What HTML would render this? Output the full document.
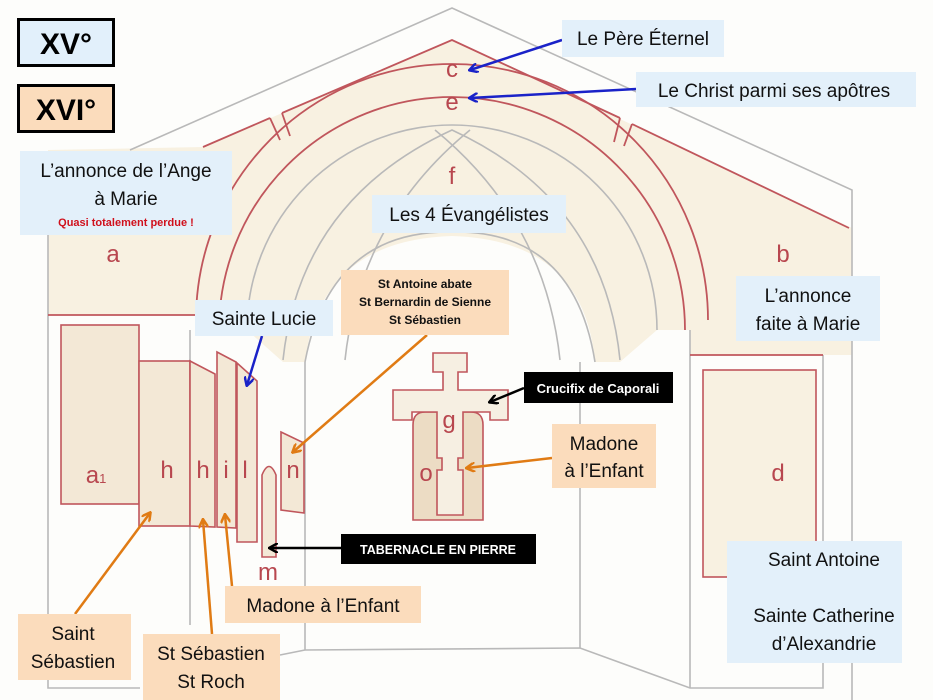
<!DOCTYPE html>
<html><head><meta charset="utf-8"><style>
html,body{margin:0;padding:0;background:#fdfdfb;}
svg{display:block;}
text{font-family:"Liberation Sans",sans-serif;}
.lb{font-family:"Liberation Sans",sans-serif;fill:#111;}
.r{fill:#b8474f;font-size:24px;text-anchor:middle;font-family:"Liberation Sans",sans-serif;}
</style></head><body>
<svg width="933" height="700" viewBox="0 0 933 700" xmlns="http://www.w3.org/2000/svg">
<defs>
<marker id="ab" markerWidth="10" markerHeight="10" refX="8" refY="5" orient="auto" markerUnits="userSpaceOnUse"><path d="M0,0 L9,5 L0,10" fill="none" stroke="#1a22c8" stroke-width="2.5"/></marker>
<marker id="ao" markerWidth="10" markerHeight="10" refX="8" refY="5" orient="auto" markerUnits="userSpaceOnUse"><path d="M0,0 L9,5 L0,10" fill="none" stroke="#e07b14" stroke-width="2.5"/></marker>
<marker id="ak" markerWidth="10" markerHeight="10" refX="8" refY="5" orient="auto" markerUnits="userSpaceOnUse"><path d="M0,0 L9,5 L0,10" fill="none" stroke="#000" stroke-width="2.5"/></marker>
</defs>
<rect width="933" height="700" fill="#fdfdfb"/>
<path d="M48,150 L203,147 L452,40 L852,228 L852,355 L690,355 L690,330 L195,330 L195,315 L48,315 Z" fill="#f8f1e1"/>
<path d="M247,330 L283,362 L620,362 L657,330 Z" fill="#f8f1e1"/>
<path d="M305,362 Q320,240 452,236 Q584,240 595,362 Z" fill="#fdfdfb"/>
<g fill="none" stroke="#b9b9b9" stroke-width="1.6">
<path d="M130,150 L452,8 L852,190 L852,700"/>
<path d="M48,228 L48,688 L140,688"/>
<line x1="190" y1="330" x2="190" y2="625"/>
<line x1="305" y1="362" x2="305" y2="650"/>
<line x1="280" y1="655" x2="305" y2="650"/>
<path d="M305,650 L580,648 L690,688 L823,688 L823,355"/>
<line x1="580" y1="362" x2="580" y2="648"/>
<line x1="690" y1="330" x2="690" y2="688"/>
<path d="M247,330 A205,205 0 0 1 657,330"/>
<path d="M283,360 Q300,200 452,130 Q604,200 620,360"/>
<path d="M305,362 Q330,230 452,232 Q574,230 595,362"/>
<path d="M345,360 Q360,220 470,130"/>
<path d="M560,360 Q545,220 435,130"/>
</g>
<g fill="none" stroke="#c0565c" stroke-width="1.8">
<path d="M203,147 L270,118"/>
<path d="M282,113 L452,40 L620,118"/>
<path d="M632,124 L849,228"/>
<path d="M196,320 A256,256 0 0 1 708,320"/>
<path d="M219,330 A233,233 0 0 1 685,330"/>
<line x1="270" y1="118" x2="280" y2="140"/><line x1="282" y1="113" x2="290" y2="136"/>
<line x1="620" y1="118" x2="614" y2="142"/><line x1="632" y1="124" x2="624" y2="146"/>
<line x1="48" y1="315" x2="195" y2="315"/>
<line x1="690" y1="355" x2="823" y2="355"/>
</g>
<g fill="#f3e8d6" stroke="#c0565c" stroke-width="1.6">
<rect x="61" y="325" width="78" height="179"/>
<rect x="139" y="361" width="51" height="165"/>
<path d="M190,361 L215,374 L215,527 L190,526 Z"/>
<path d="M217,352 L236,362 L236,528 L217,527 Z"/>
<path d="M237,363 L257,381 L257,542 L237,542 Z"/>
<path d="M262,557 L262,475 Q269,458 276,475 L276,557 Z"/>
<path d="M281,432 L304,443 L304,513 L281,510 Z"/>
<rect x="703" y="370" width="113" height="207" fill="#f8f1e1"/>
<path d="M413,520 L413,425 Q413,412 425,412 L471,412 Q483,412 483,425 L483,520 Z" fill="#ecdcc4"/>
<path d="M433,353 L467,353 L467,372 L458,372 L458,390 L508,390 L508,420 L490,420 L490,412 L463,412 L463,458 L458,458 L458,470 L463,470 L463,515 L437,515 L437,470 L442,470 L442,458 L437,458 L437,412 L412,412 L412,420 L393,420 L393,390 L443,390 L443,372 L433,372 Z" fill="#f6efe2"/>
</g>
<text class="r" x="452" y="77">c</text>
<text class="r" x="452" y="110">e</text>
<text class="r" x="452" y="184">f</text>
<text class="r" x="113" y="262">a</text>
<text class="r" x="783" y="262">b</text>
<text class="r" x="96" y="483">a<tspan font-size="13">1</tspan></text>
<text class="r" x="167" y="478">h</text>
<text class="r" x="203" y="478">h</text>
<text class="r" x="226" y="478">i</text>
<text class="r" x="245" y="478">l</text>
<text class="r" x="293" y="478">n</text>
<text class="r" x="449" y="428">g</text>
<text class="r" x="426" y="481">o</text>
<text class="r" x="268" y="580">m</text>
<text class="r" x="778" y="481">d</text>
<g fill="none" stroke-width="2.5">
<line x1="562" y1="40" x2="470" y2="70" stroke="#1a22c8" marker-end="url(#ab)"/>
<line x1="636" y1="89" x2="470" y2="98" stroke="#1a22c8" marker-end="url(#ab)"/>
<line x1="262" y1="336" x2="247" y2="385" stroke="#1a22c8" marker-end="url(#ab)"/>
<line x1="427" y1="335" x2="293" y2="452" stroke="#e07b14" marker-end="url(#ao)"/>
<line x1="552" y1="458" x2="467" y2="468" stroke="#e07b14" marker-end="url(#ao)"/>
<line x1="75" y1="614" x2="150" y2="513" stroke="#e07b14" marker-end="url(#ao)"/>
<line x1="212" y1="634" x2="203" y2="520" stroke="#e07b14" marker-end="url(#ao)"/>
<line x1="232" y1="586" x2="225" y2="515" stroke="#e07b14" marker-end="url(#ao)"/>
<line x1="524" y1="388" x2="490" y2="402" stroke="#000" marker-end="url(#ak)"/>
<line x1="341" y1="548" x2="270" y2="548" stroke="#000" marker-end="url(#ak)"/>
</g>
<rect x="18.5" y="19.5" width="95" height="46" fill="#e2f0fb" stroke="#000" stroke-width="3"/>
<text x="66" y="54" font-size="30" font-weight="bold" text-anchor="middle">XV°</text>
<rect x="18.5" y="85.5" width="95" height="46" fill="#fbdcbc" stroke="#000" stroke-width="3"/>
<text x="66" y="120" font-size="30" font-weight="bold" text-anchor="middle">XVI°</text>
<g fill="#e3f0fa">
<rect x="20" y="151" width="212" height="84"/>
<rect x="372" y="195" width="194" height="38"/>
<rect x="562" y="20" width="162" height="37"/>
<rect x="636" y="72" width="280" height="35"/>
<rect x="736" y="276" width="144" height="65"/>
<rect x="195" y="300" width="138" height="36"/>
<rect x="727" y="541" width="175" height="122"/>
</g>
<g fill="#fbdcbc">
<rect x="341" y="270" width="168" height="65"/>
<rect x="552" y="424" width="104" height="64"/>
<rect x="225" y="586" width="196" height="37"/>
<rect x="18" y="614" width="113" height="66"/>
<rect x="143" y="634" width="137" height="66"/>
</g>
<rect x="524" y="372" width="149" height="31" fill="#000"/>
<rect x="341" y="534" width="195" height="30" fill="#000"/>
<g class="lb" font-size="19" text-anchor="middle">
<text x="126" y="177">L’annonce de l’Ange</text>
<text x="126" y="205">à Marie</text>
<text x="469" y="221">Les 4 Évangélistes</text>
<text x="643" y="45">Le Père Éternel</text>
<text x="774" y="97">Le Christ parmi ses apôtres</text>
<text x="808" y="302">L’annonce</text>
<text x="808" y="330">faite à Marie</text>
<text x="264" y="325">Sainte Lucie</text>
<text x="604" y="450">Madone</text>
<text x="604" y="477">à l’Enfant</text>
<text x="323" y="612">Madone à l’Enfant</text>
<text x="73" y="640">Saint</text>
<text x="73" y="668">Sébastien</text>
<text x="211" y="660">St Sébastien</text>
<text x="211" y="688">St Roch</text>
<text x="824" y="566">Saint Antoine</text>
<text x="824" y="622">Sainte Catherine</text>
<text x="824" y="650">d’Alexandrie</text>
</g>
<text x="126" y="226" font-size="11" font-weight="bold" fill="#d0101c" text-anchor="middle">Quasi totalement perdue !</text>
<g class="lb" font-size="12" text-anchor="middle" font-weight="bold" fill="#222">
<text x="425" y="288">St Antoine abate</text>
<text x="425" y="306">St Bernardin de Sienne</text>
<text x="425" y="324">St Sébastien</text>
</g>
<text x="598" y="393" font-size="13" font-weight="bold" fill="#fff" text-anchor="middle">Crucifix de Caporali</text>
<text x="438" y="554" font-size="12.5" font-weight="bold" fill="#fff" text-anchor="middle">TABERNACLE  EN PIERRE</text>
</svg>
</body></html>
